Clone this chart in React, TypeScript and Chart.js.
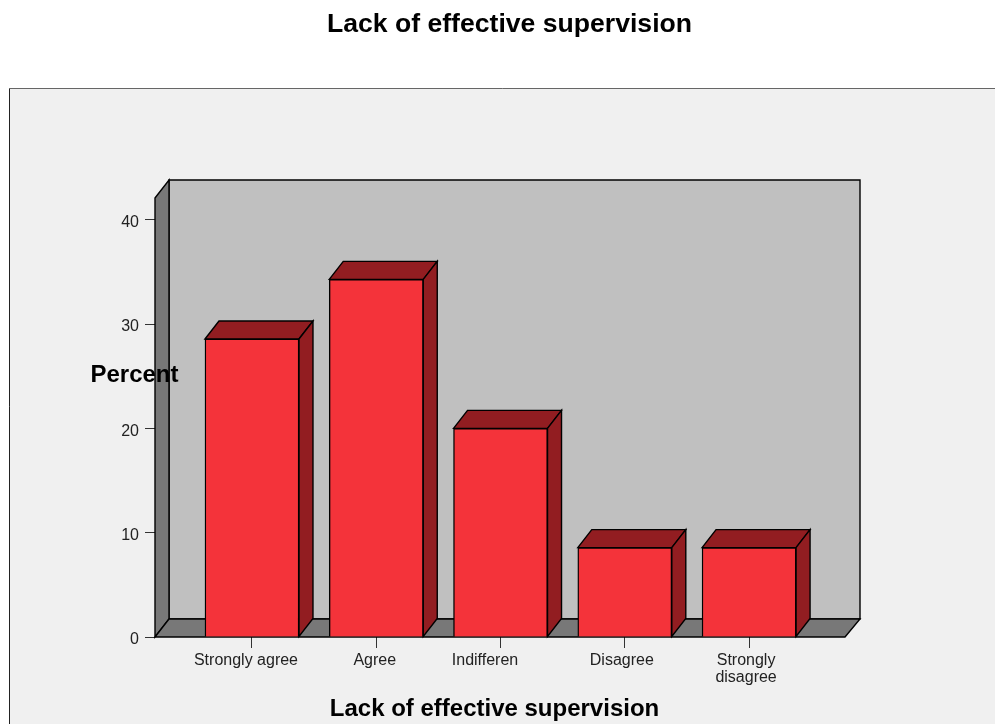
import React, { useEffect, useRef } from "react";
import { Chart, registerables } from "chart.js";

Chart.register(...registerables);

const categories = ["Strongly agree", "Agree", "Indifferen", "Disagree", ["Strongly", "disagree"]];
const percents = [28.57, 34.29, 20.0, 8.57, 8.57];
const yTicks = [0, 10, 20, 30, 40];
const labelShifts = [-6, -1.5, -15.5, -3, -3];
const chartTitle = "Lack of effective supervision";
const xTitle = "Lack of effective supervision";
const yTitle = "Percent";

const FONT = '"Liberation Sans", Arial, sans-serif';
const DX = 14;
const DY = -18;

function poly(ctx: CanvasRenderingContext2D, pts: number[][], fill: string, lw = 1.4, stroke = "#000") {
  ctx.beginPath();
  pts.forEach(([x, y], i) => (i ? ctx.lineTo(x, y) : ctx.moveTo(x, y)));
  ctx.closePath();
  ctx.fillStyle = fill;
  ctx.fill();
  ctx.lineWidth = lw;
  ctx.strokeStyle = stroke;
  ctx.stroke();
}

const scene = {
  id: "scene",
  afterLayout(chart: any) {
    chart.titleBlock.left += 9.5;
    chart.titleBlock.right += 9.5;
  },
  beforeDraw(chart: any) {
    const ctx = chart.ctx as CanvasRenderingContext2D;
    ctx.save();
    ctx.fillStyle = "#fff";
    ctx.fillRect(0, 0, chart.width, chart.height);
    ctx.fillStyle = "#f0f0f0";
    ctx.fillRect(9, 88, chart.width, chart.height);
    ctx.lineWidth = 1;
    ctx.beginPath();
    ctx.moveTo(chart.width, 88.5);
    ctx.lineTo(9.5, 88.5);
    ctx.strokeStyle = "#666";
    ctx.stroke();
    ctx.beginPath();
    ctx.moveTo(9.5, 88.5);
    ctx.lineTo(9.5, chart.height);
    ctx.strokeStyle = "#222";
    ctx.stroke();
    ctx.restore();
    chart.scales.x.getLabelItems(chart.chartArea).forEach((item: any, i: number) => {
      const [tx, ty] = item.options.translation;
      item.options.translation = [tx + labelShifts[i], ty];
    });
    chart.scales.y.getLabelItems(chart.chartArea).forEach((item: any) => {
      const [tx, ty] = item.options.translation;
      item.options.translation = [tx, ty + 3];
    });
  },
  beforeDatasetsDraw(chart: any) {
    const ctx = chart.ctx as CanvasRenderingContext2D;
    const { left: l, right: r, top: t, bottom: b } = chart.chartArea;
    ctx.save();
    poly(ctx, [[l + DX, t + DY], [r + DX + 1, t + DY], [r + DX + 1, b + DY], [l + DX, b + DY]], "#c0c0c0");
    poly(ctx, [[l, t], [l + DX, t + DY], [l + DX, b + DY], [l, b]], "#787878");
    poly(ctx, [[l, b], [l + DX, b + DY], [r + DX + 1, b + DY], [r, b]], "#787878");
    chart.getDatasetMeta(0).data.forEach((bar: any) => {
      const w = bar.width / 2;
      const x0 = bar.x - w;
      const x1 = bar.x + w;
      poly(ctx, [[x0, bar.y], [x0 + DX, bar.y + DY], [x1 + DX, bar.y + DY], [x1, bar.y]], "#921d21");
      poly(ctx, [[x1, bar.y], [x1 + DX, bar.y + DY], [x1 + DX, bar.base + DY], [x1, bar.base]], "#921d21");
    });
    ctx.restore();
  },
  afterDraw(chart: any) {
    const ctx = chart.ctx as CanvasRenderingContext2D;
    ctx.save();
    ctx.fillStyle = "#000";
    ctx.font = `bold 24px ${FONT}`;
    ctx.textAlign = "center";
    ctx.textBaseline = "middle";
    ctx.fillText(xTitle, 494.5, 709);
    ctx.fillText(yTitle, 134.5, 375);
    ctx.restore();
  },
};

export default function App() {
  const ref = useRef<HTMLCanvasElement>(null);
  useEffect(() => {
    document.body.style.margin = "0";
    const chart = new Chart(ref.current!, {
      type: "bar",
      data: {
        datasets: [
          {
            data: percents.map((y, i) => ({ x: i + 1, y })),
            backgroundColor: "#f4333a",
            borderColor: "#000",
            borderWidth: 1.4,
            barThickness: 94,
          },
        ],
      },
      plugins: [scene],
      options: {
        responsive: false,
        animation: false,
        layout: { padding: { left: 0, right: 150, top: 0, bottom: 0 } },
        plugins: {
          legend: { display: false },
          tooltip: { enabled: false },
          title: {
            display: true,
            text: chartTitle,
            fullSize: false,
            color: "#000",
            font: { family: FONT, size: 26.6, weight: "bold", lineHeight: 1.15 },
            padding: { top: 9, bottom: 158.4 },
          },
        },
        scales: {
          x: {
            type: "linear",
            offset: false,
            min: 0.2196,
            max: 5.772,
            afterBuildTicks: (s: any) => {
              s.ticks = categories.map((_, i) => ({ value: i + 1 }));
            },
            afterFit: (s: any) => {
              s.height = 87;
            },
            border: { display: false },
            grid: { offset: false, drawOnChartArea: false, drawTicks: true, tickLength: 11, color: "#333", lineWidth: 1 },
            ticks: {
              autoSkip: false,
              maxRotation: 0,
              minRotation: 0,
              padding: 4,
              color: "#222",
              font: { family: FONT, size: 16, lineHeight: 1.05 },
              callback: (v: any) => categories[Number(v) - 1] as any,
            },
          },
          y: {
            min: 0,
            max: 42.09,
            afterBuildTicks: (s: any) => {
              s.ticks = yTicks.map((value) => ({ value }));
            },
            afterFit: (s: any) => {
              s.width = 155;
            },
            border: { display: false },
            grid: { drawOnChartArea: false, drawTicks: true, tickLength: 10, color: "#333", lineWidth: 1 },
            ticks: {
              padding: 6,
              color: "#222",
              font: { family: FONT, size: 16 },
            },
          },
        },
      } as any,
    });
    return () => chart.destroy();
  }, []);
  return <canvas ref={ref} width={995} height={724} style={{ display: "block" }} />;
}
